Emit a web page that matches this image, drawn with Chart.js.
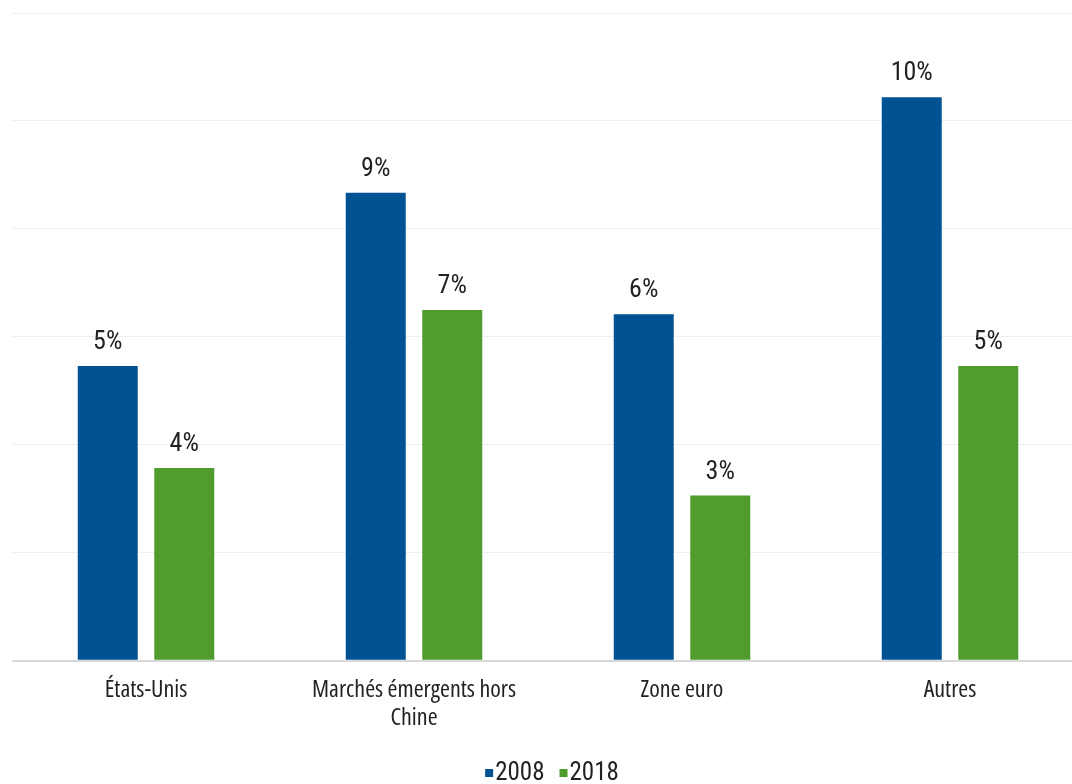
<!DOCTYPE html>
<html>
<head>
<meta charset="utf-8">
<script src="https://cdn.jsdelivr.net/npm/chart.js@4"></script>
<style>
  html, body { margin: 0; padding: 0; background: #ffffff; overflow: hidden; }
  #wrap { width: 1084px; height: 784px; }
</style>
</head>
<body>
<div id="wrap"><canvas id="c" width="1084" height="784"></canvas></div>
<script>
const categories = [["États-Unis"], ["Marchés émergents hors", "Chine"], ["Zone euro"], ["Autres"]];
const seriesNames = ["2008", "2018"];
const values2008 = [5.46, 8.67, 6.42, 10.44];
const values2018 = [3.57, 6.5, 3.06, 5.46];
const yTicks = [0, 2, 4, 6, 8, 10, 12];

const TEXT = '#222222';

function setCondensed(ctx, size) {
  ctx.font = size + 'px Roboto';
  try { ctx.fontStretch = 'condensed'; } catch (e) {}
}

const labelPlugin = {
  id: 'barLabels',
  afterDatasetsDraw(chart) {
    const ctx = chart.ctx;
    ctx.save();
    setCondensed(ctx, 26);
    ctx.fillStyle = TEXT;
    ctx.textAlign = 'center';
    ctx.textBaseline = 'alphabetic';
    chart.data.datasets.forEach((ds, di) => {
      const meta = chart.getDatasetMeta(di);
      meta.data.forEach((bar, i) => {
        ctx.fillText(Math.round(ds.data[i]) + '%', bar.x, bar.y - 17);
      });
    });
    ctx.restore();
  }
};

const legendPlugin = {
  id: 'bottomLegend',
  afterDraw(chart) {
    const ctx = chart.ctx;
    ctx.save();
    setCondensed(ctx, 25);
    ctx.textBaseline = 'alphabetic';
    ctx.textAlign = 'left';
    const box = 8, gap = 2, spacing = 15;
    const items = chart.data.datasets.map(ds => ({ text: ds.label, color: ds.backgroundColor, w: ctx.measureText(ds.label).width }));
    const total = items.reduce((s, it) => s + box + gap + it.w, 0) + spacing * (items.length - 1);
    const area = chart.chartArea;
    let x = (area.left + area.right) / 2 + 4 - total / 2;
    const baseline = 780;
    items.forEach(it => {
      ctx.fillStyle = it.color;
      ctx.fillRect(x, baseline - box - 3, box, box);
      x += box + gap;
      ctx.fillStyle = TEXT;
      ctx.fillText(it.text, x, baseline);
      x += it.w + spacing;
    });
    ctx.restore();
  }
};

new Chart(document.getElementById('c'), {
  type: 'bar',
  data: {
    labels: categories,
    datasets: [
      { label: seriesNames[0], data: values2008, backgroundColor: '#005293' },
      { label: seriesNames[1], data: values2018, backgroundColor: '#509d2e' }
    ]
  },
  options: {
    responsive: false,
    animation: false,
    devicePixelRatio: 1,
    layout: { padding: { top: 13, left: 12, right: 0, bottom: 36 } },
    datasets: { bar: { categoryPercentage: 0.571, barPercentage: 0.784 } },
    scales: {
      x: {
        grid: { display: false, drawTicks: false },
        border: { display: false },
        ticks: { font: { family: "'Open Sans'", weight: 'normal condensed', size: 24, lineHeight: 1.15 }, color: TEXT, padding: 16, maxRotation: 0 }
      },
      y: {
        min: 0, max: 12,
        afterFit(s) { s.width = 0; },
        afterBuildTicks(s) { s.ticks = yTicks.map(v => ({ value: v })); },
        ticks: { display: false },
        border: { display: false },
        grid: {
          color: c => c.tick && c.tick.value === 0 ? '#d9d9d9' : '#efefef',
          lineWidth: c => c.tick && c.tick.value === 0 ? 2 : 1,
          drawTicks: false
        }
      }
    },
    plugins: {
      legend: { display: false },
      tooltip: { enabled: false }
    }
  },
  plugins: [labelPlugin, legendPlugin]
});
</script>
</body>
</html>
